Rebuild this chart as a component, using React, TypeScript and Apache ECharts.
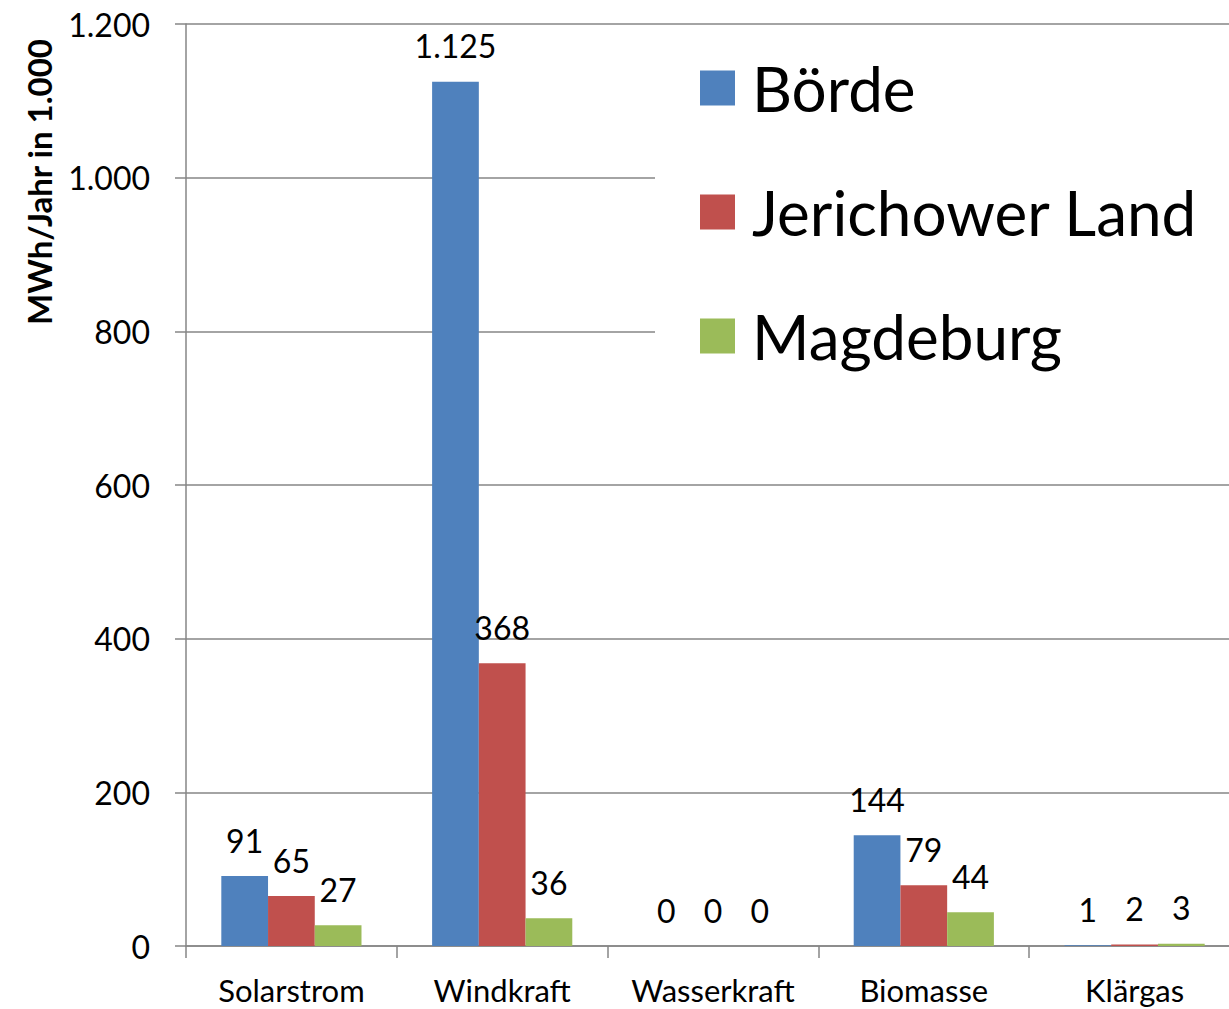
import React, { useEffect, useRef } from "react";
import * as echarts from "echarts";

const categories = ["Solarstrom", "Windkraft", "Wasserkraft", "Biomasse", "Klärgas"];
const seriesNames = ["Börde", "Jerichower Land", "Magdeburg"];
const boerde = [91, 1125, 0, 144, 1];
const jerichower = [65, 368, 0, 79, 2];
const magdeburg = [27, 36, 0, 44, 3];
const colors = ["#4F81BD", "#C0504D", "#9BBB59"];
const yTitle = "MWh/Jahr in 1.000";

const FONT = "Lato";

function de(v: number): string {
  const s = Math.round(v).toString();
  return s.replace(/\B(?=(\d{3})+(?!\d))/g, ".");
}

export default function App() {
  const ref = useRef<HTMLDivElement>(null);
  useEffect(() => {
    document.body.style.margin = "0";
    if (!ref.current) return;
    const chart = echarts.init(ref.current, undefined, { renderer: "svg" });
    const data = [boerde, jerichower, magdeburg];
    chart.setOption({
      animation: false,
      backgroundColor: "#ffffff",
      textStyle: { fontFamily: FONT },
      grid: { left: 186, top: 24, width: 1054, height: 922, containLabel: false },
      legend: {
        orient: "vertical",
        left: 655,
        top: 26,
        padding: [0, 120, 0, 45],
        backgroundColor: "#ffffff",
        itemWidth: 35,
        itemHeight: 35,
        itemGap: 0,
        icon: "rect",
        z: 10,
        textStyle: {
          fontFamily: FONT,
          fontSize: 62,
          color: "#000000",
          lineHeight: 124,
          padding: [0, 0, 0, 12],
        },
        data: seriesNames,
      },
      xAxis: {
        type: "category",
        data: categories,
        axisLine: { lineStyle: { color: "#868686", width: 1.5 } },
        axisTick: { show: true, length: 12, lineStyle: { color: "#868686", width: 1.5 } },
        axisLabel: {
          fontFamily: FONT,
          fontSize: 31,
          color: "#000000",
          margin: 28,
          interval: 0,
          hideOverlap: false,
        },
      },
      yAxis: {
        type: "value",
        min: 0,
        max: 1200,
        interval: 200,
        axisLine: { show: true, lineStyle: { color: "#868686", width: 1.5 } },
        axisTick: { show: true, length: 11, lineStyle: { color: "#868686", width: 1.5 } },
        splitLine: { show: true, lineStyle: { color: "#868686", width: 1.5 } },
        axisLabel: {
          fontFamily: FONT,
          fontSize: 32,
          color: "#000000",
          margin: 36,
          formatter: (v: number) => de(v),
        },
      },
      graphic: [
        {
          type: "text",
          x: 39,
          y: 182,
          rotation: Math.PI / 2,
          style: {
            text: yTitle,
            fontFamily: FONT,
            fontWeight: "bold",
            fontSize: 33,
            fill: "#000000",
            align: "center",
            verticalAlign: "middle",
          },
        },
      ],
      series: seriesNames.map((name, i) => ({
        name,
        type: "bar",
        data: data[i],
        barGap: "0%",
        barCategoryGap: "33.5%",
        itemStyle: { color: colors[i] },
        label: {
          show: true,
          position: "top",
          distance: 20,
          fontFamily: FONT,
          fontSize: 32,
          color: "#000000",
          formatter: (p: any) => de(p.value),
        },
      })),
    });
    return () => chart.dispose();
  }, []);
  return (
    <div style={{ width: 1229, height: 1009, overflow: "hidden", position: "relative" }}>
      <div ref={ref} style={{ width: 1260, height: 1009 }} />
    </div>
  );
}
